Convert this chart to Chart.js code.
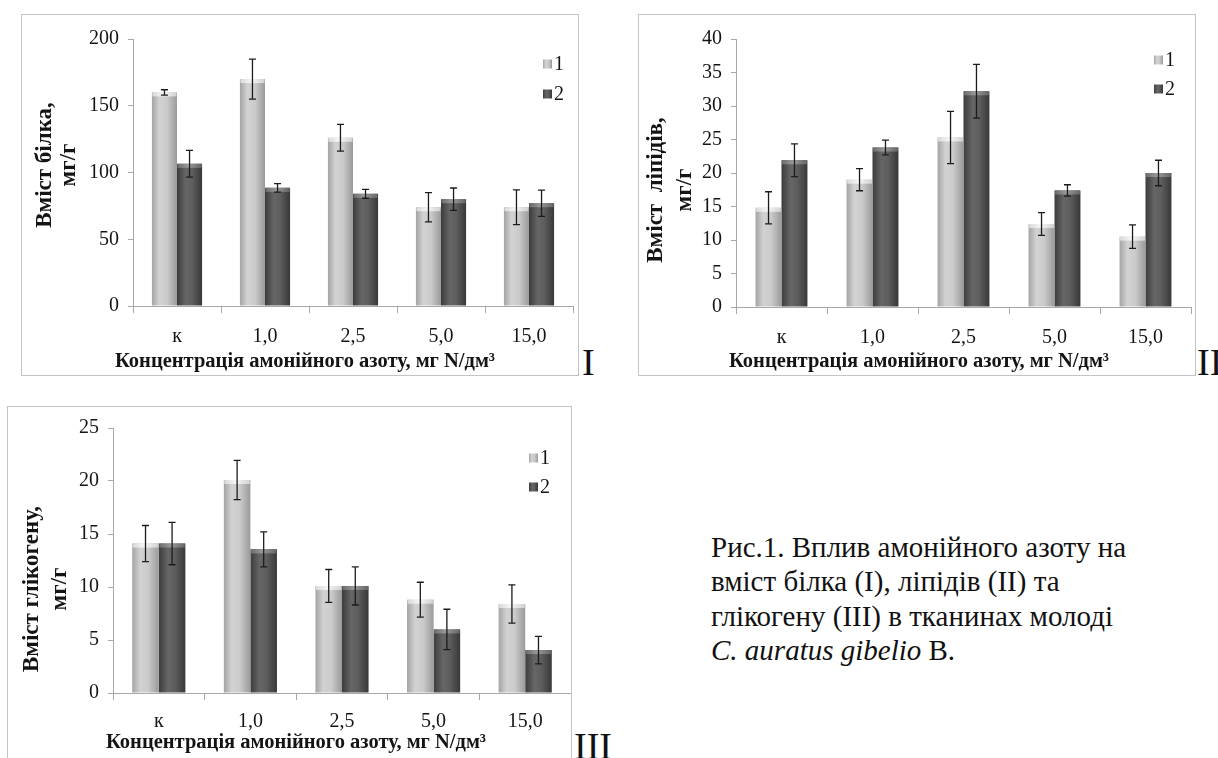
<!DOCTYPE html>
<html><head><meta charset="utf-8">
<script src="https://cdn.jsdelivr.net/npm/chart.js@4.4.1/dist/chart.umd.min.js"></script>
<style>
html,body{margin:0;padding:0;background:#fff;width:1218px;height:758px;overflow:hidden;position:relative;}
.frame{position:absolute;border:1px solid #c4c4c4;background:#fff;box-sizing:border-box;}
.frame canvas{display:block;}
.roman{position:absolute;font-family:"Liberation Serif","Times New Roman","DejaVu Serif",serif;font-size:38px;line-height:38px;color:#111;white-space:nowrap;}
.caption{position:absolute;left:711px;top:530px;font-family:"Liberation Serif","Times New Roman","DejaVu Serif",serif;font-size:29px;line-height:34.4px;color:#111;white-space:nowrap;}
</style></head>
<body>
<div class="frame" style="left:21px;top:14px;width:558px;height:362px"><canvas id="c1" width="556" height="360"></canvas></div>
<div class="roman" style="left:582px;top:343px">I</div>
<div class="frame" style="left:638px;top:14px;width:558px;height:362px"><canvas id="c2" width="556" height="360"></canvas></div>
<div class="roman" style="left:1197px;top:343px">II</div>
<div class="frame" style="left:7px;top:406px;width:565px;height:362px"><canvas id="c3" width="563" height="360"></canvas></div>
<div class="roman" style="left:574px;top:727px">III</div>
<div class="caption">Рис.1. Вплив амонійного азоту на<br>вміст білка (I), ліпідів (II) та<br>глікогену (III) в тканинах молоді<br><i>C. auratus gibelio</i> B.</div>
<script>
// ---- data ----
const categories = ['к', '1,0', '2,5', '5,0', '15,0'];
const seriesLabels = ['1', '2'];
const xAxisTitle = 'Концентрація амонійного азоту, мг N/дм³';

const protein1 = [160, 170, 126, 74, 74];
const protein1Err = [2, 15, 10, 11, 13];
const protein2 = [106.5, 88.5, 84, 80, 77];
const protein2Err = [10, 3.2, 3.3, 8.4, 9.8];
const proteinTitle = ['Вміст білка,', 'мг/г'];
const proteinAxis = [0, 200, 50];

const lipid1 = [14.8, 19.0, 25.3, 12.4, 10.5];
const lipid1Err = [2.4, 1.65, 3.9, 1.7, 1.75];
const lipid2 = [21.9, 23.8, 32.2, 17.4, 20.0];
const lipid2Err = [2.45, 1.1, 4.0, 0.85, 1.9];
const lipidTitle = ['Вміст  ліпідів,', 'мг/г'];
const lipidAxis = [0, 40, 5];

const glyco1 = [14.1, 20.1, 10.1, 8.8, 8.4];
const glyco1Err = [1.7, 1.85, 1.55, 1.65, 1.8];
const glyco2 = [14.1, 13.55, 10.1, 6.0, 4.05];
const glyco2Err = [2.0, 1.65, 1.8, 1.9, 1.3];
const glycoTitle = ['Вміст глікогену,', 'мг/г'];
const glycoAxis = [0, 25, 5];

// ---- styling ----
const SERIF = '"Liberation Serif", "Times New Roman", "DejaVu Serif", serif';
const AXIS_COLOR = '#a8a8a8';
const TEXT_COLOR = '#141414';
const shades = [
  {stops: [[0,'#a4a4a4'],[0.3,'#d2d2d2'],[0.6,'#cbcbcb'],[1,'#9a9a9a']], cap: ['#d8d8d8','#f6f6f6','#d0d0d0']},
  {stops: [[0,'#3c3c3c'],[0.35,'#666666'],[0.6,'#5e5e5e'],[1,'#383838']], cap: ['#6a6a6a','#9a9a9a','#646464']}
];

function hGrad(ctx, x0, x1, stops) {
  const g = ctx.createLinearGradient(x0, 0, x1, 0);
  stops.forEach(s => g.addColorStop(s[0], s[1]));
  return g;
}

const barLook = {
  id: 'barLook',
  beforeDatasetsDraw(chart) {
    const ctx = chart.ctx;
    chart.data.datasets.forEach((ds, di) => {
      chart.getDatasetMeta(di).data.forEach(el => {
        const p = el.getProps(['x', 'width'], true);
        const g = hGrad(ctx, p.x - p.width / 2, p.x + p.width / 2, shades[di].stops);
        el.options = Object.assign({}, el.options, {backgroundColor: g});
      });
    });
  },
  afterDatasetsDraw(chart) {
    const ctx = chart.ctx;
    const y = chart.scales.y;
    ctx.save();
    chart.data.datasets.forEach((ds, di) => {
      const meta = chart.getDatasetMeta(di);
      meta.data.forEach((el, i) => {
        const p = el.getProps(['x', 'y', 'width'], true);
        const x0 = p.x - p.width / 2, x1 = p.x + p.width / 2;
        const c = shades[di].cap;
        const g = ctx.createLinearGradient(x0, 0, x1, 0);
        g.addColorStop(0, c[0]); g.addColorStop(0.45, c[1]); g.addColorStop(1, c[2]);
        ctx.fillStyle = g;
        ctx.fillRect(x0 + 0.5, p.y, p.width - 1, 4);
      });
    });
    // error bars
    ctx.strokeStyle = '#1c1c1c';
    ctx.lineWidth = 1.3;
    chart.data.datasets.forEach((ds, di) => {
      const meta = chart.getDatasetMeta(di);
      meta.data.forEach((el, i) => {
        const v = ds.data[i], e = ds.errors[i];
        const yt = y.getPixelForValue(v + e), yb = y.getPixelForValue(v - e);
        const x = el.getProps(['x'], true).x;
        ctx.beginPath();
        ctx.moveTo(x, yt); ctx.lineTo(x, yb);
        ctx.moveTo(x - 3.5, yt); ctx.lineTo(x + 3.5, yt);
        ctx.moveTo(x - 3.5, yb); ctx.lineTo(x + 3.5, yb);
        ctx.stroke();
      });
    });
    ctx.restore();
  }
};

const extraText = {
  id: 'extraText',
  afterDraw(chart, args, o) {
    const ctx = chart.ctx;
    ctx.save();
    ctx.fillStyle = TEXT_COLOR;
    // y title (rotated, two lines)
    ctx.font = 'bold ' + o.ytSize + 'px ' + SERIF;
    ctx.textAlign = 'center';
    ctx.textBaseline = 'middle';
    o.yTitle.forEach((line, k) => {
      ctx.save();
      ctx.translate(o.ytX[k], o.ytY);
      ctx.rotate(-Math.PI / 2);
      ctx.fillText(line, 0, 0);
      ctx.restore();
    });
    // x title
    ctx.font = 'bold ' + o.xtSize + 'px ' + SERIF;
    ctx.fillText(xAxisTitle, o.xtX, o.xtY);
    // legend
    ctx.font = '20px ' + SERIF;
    ctx.textAlign = 'left';
    chart.data.datasets.forEach((ds, di) => {
      const by = o.legY[di];
      ctx.fillStyle = hGrad(ctx, o.legX, o.legX + 9, shades[di].stops);
      ctx.fillRect(o.legX, by - 4.5, 9, 9);
      ctx.fillStyle = TEXT_COLOR;
      ctx.fillText(ds.label, o.legX + 11, by + 1);
    });
    ctx.restore();
  }
};

function makeChart(id, a, aErr, b, bErr, axis, yTitle, L) {
  const canvas = document.getElementById(id);
  const H = canvas.height;
  return new Chart(canvas, {
    type: 'bar',
    data: {
      labels: categories,
      datasets: [
        {label: seriesLabels[0], data: a, errors: aErr, backgroundColor: '#c0c0c0', borderWidth: 0},
        {label: seriesLabels[1], data: b, errors: bErr, backgroundColor: '#555555', borderWidth: 0}
      ]
    },
    options: {
      responsive: false,
      animation: false,
      events: [],
      datasets: {bar: {categoryPercentage: L.cat, barPercentage: 1}},
      layout: {padding: {left: 0, top: L.top, right: L.right, bottom: H - L.bottom - L.xh}},
      plugins: {
        legend: {display: false},
        title: {display: false},
        tooltip: {enabled: false},
        extraText: {yTitle: yTitle, ytSize: L.ytSize, ytX: L.ytX, ytY: L.ytY, xtSize: L.xtSize, xtX: L.xtX, xtY: L.xtY, legX: L.legX, legY: L.legY}
      },
      scales: {
        x: {
          grid: {display: true, drawOnChartArea: false, offset: true, tickLength: 7, color: AXIS_COLOR, lineWidth: 1},
          border: {color: AXIS_COLOR, width: 1},
          ticks: {color: TEXT_COLOR, font: {family: SERIF, size: 20}, padding: L.xpad, maxRotation: 0},
          afterFit(s) { s.height = L.xh; }
        },
        y: {
          min: axis[0], max: axis[1],
          grid: {display: true, drawOnChartArea: false, tickLength: 5, color: AXIS_COLOR, lineWidth: 1},
          border: {color: AXIS_COLOR, width: 1},
          ticks: {stepSize: axis[2], color: TEXT_COLOR, font: {family: SERIF, size: 20}, padding: 9},
          afterFit(s) { s.width = L.left; }
        }
      }
    },
    plugins: [barLook, extraText]
  });
}

makeChart('c1', protein1, protein1Err, protein2, protein2Err, proteinAxis, proteinTitle,
  {left: 111, top: 24, right: 5, bottom: 291, xh: 40, xpad: 12, cat: 0.57,
   ytSize: 23, ytX: [23, 47], ytY: 150, xtSize: 20.5, xtX: 283, xtY: 347, legX: 521, legY: [49, 79]});
makeChart('c2', lipid1, lipid1Err, lipid2, lipid2Err, lipidAxis, lipidTitle,
  {left: 97, top: 24, right: 4, bottom: 292, xh: 40, xpad: 12, cat: 0.57,
   ytSize: 23, ytX: [17, 46], ytY: 175, xtSize: 20.5, xtX: 280, xtY: 347, legX: 515, legY: [45, 74]});
makeChart('c3', glyco1, glyco1Err, glyco2, glyco2Err, glycoAxis, glycoTitle,
  {left: 105, top: 21, right: 0, bottom: 286, xh: 40, xpad: 10, cat: 0.58,
   ytSize: 23, ytX: [24, 52], ytY: 182, xtSize: 20.5, xtX: 288, xtY: 336, legX: 521, legY: [51, 80]});
</script>
</body></html>
